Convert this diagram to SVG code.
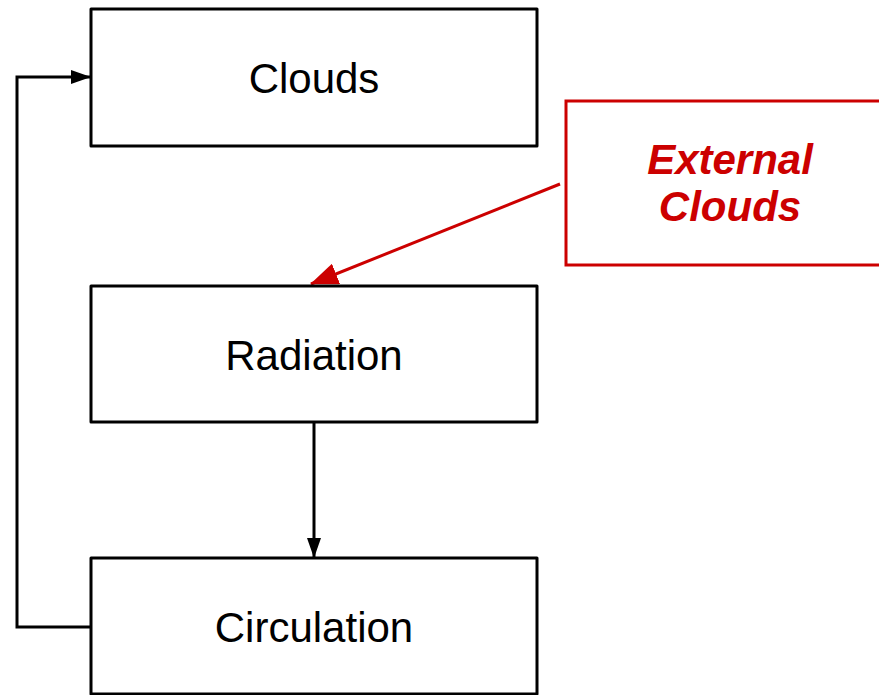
<svg xmlns="http://www.w3.org/2000/svg" width="879" height="695" viewBox="0 0 879 695">
<style>
.box{fill:#fff;stroke:#000;stroke-width:3;stroke-linejoin:round}
.lbl{font-family:"Liberation Sans",Arial,sans-serif;font-size:42px;text-anchor:middle;fill:#000}
.ext{font-family:"Liberation Sans",Arial,sans-serif;font-size:42px;font-weight:bold;font-style:italic;text-anchor:middle;fill:#cc0000}
.con{fill:none;stroke:#000;stroke-width:3}
</style>
<defs>
<marker id="ab" markerWidth="20" markerHeight="14" refX="19" refY="7" orient="auto" markerUnits="userSpaceOnUse"><path d="M0,0 L20,7 L0,14 Z" fill="#000"/></marker>
<marker id="ar" markerWidth="28" markerHeight="22" refX="27" refY="11" orient="auto" markerUnits="userSpaceOnUse"><path d="M0,0 L28,11 L0,22 Z" fill="#cc0000"/></marker>
</defs>
<rect width="879" height="695" fill="#fff"/>
<g id="connectors">
<path class="con" d="M91,627 L17,627 L17,77 L90,77" marker-end="url(#ab)"/>
<path class="con" d="M314,422 L314,557" marker-end="url(#ab)"/>
<path d="M560,184 L311,284" fill="none" stroke="#cc0000" stroke-width="3" marker-end="url(#ar)"/>
</g>
<g id="clouds"><rect class="box" x="91" y="9" width="446" height="137"/><text class="lbl" x="314" y="93">Clouds</text></g>
<g id="radiation"><rect class="box" x="91" y="286" width="446" height="136"/><text class="lbl" x="314" y="370">Radiation</text></g>
<g id="circulation"><rect class="box" x="91" y="558" width="446" height="136"/><text class="lbl" x="314" y="642">Circulation</text></g>
<g id="external"><rect x="566" y="101" width="320" height="164" fill="#fff" stroke="#cc0000" stroke-width="3"/><text class="ext" x="730" y="174">External</text><text class="ext" x="730" y="221">Clouds</text></g>
</svg>
